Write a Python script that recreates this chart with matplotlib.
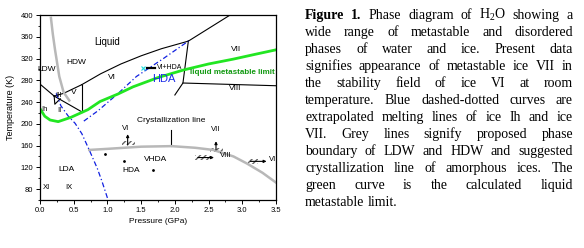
import matplotlib
matplotlib.use("Agg")
import matplotlib.pyplot as plt
from matplotlib.patches import Rectangle
from matplotlib.ticker import MultipleLocator

plt.rcParams['font.family'] = ['Liberation Sans', 'DejaVu Sans']
plt.rcParams['mathtext.fontset'] = 'custom'
plt.rcParams['mathtext.rm'] = 'Liberation Serif'

# ---------------- data (GPa, K) ----------------
# stable phase boundaries (black)
melt_Ih_P = [0.0, 0.21]
melt_Ih_T = [273, 251]
melt_low_P = [0.21, 0.35, 0.62]
melt_low_T = [251, 256, 272]
melt_VI_P = [0.62, 0.9, 1.2, 1.5, 1.8, 2.2]
melt_VI_T = [272, 292, 310, 325, 338, 352]
melt_VII_P = [2.2, 2.82]
melt_VII_T = [352, 400]
b_V_VI_P = [0.62, 0.62]
b_V_VI_T = [272, 222]
b_diag_P = [0.21, 0.62]
b_diag_T = [251, 222]
b_tri_P = [0.21, 0.22, 0.30]
b_tri_T = [251, 236, 246]
b_VI_VII_P = [2.2, 2.12, 2.0]
b_VI_VII_T = [352, 275, 253]
b_VII_VIII_P = [2.12, 3.5]
b_VII_VIII_T = [275, 270]

# grey lines
ldw_hdw_P = [0.16, 0.19, 0.223, 0.286, 0.35, 0.445]
ldw_hdw_T = [397, 365, 336, 287, 258, 241]
cryst_P = [0.73, 1.0, 1.5, 1.95, 2.3, 2.57, 2.87, 3.07, 3.3, 3.5]
cryst_T = [152, 154, 158, 159, 156, 152, 140, 127, 110, 92]
cryst_tick_P = [1.95, 1.95]
cryst_tick_T = [159, 188]

# blue dash-dotted extrapolated melting lines
ext_Ih_P = [0.24, 0.31, 0.42, 0.52, 0.62, 0.73, 0.85, 0.92, 1.01]
ext_Ih_T = [256, 233, 214, 201, 182, 152, 118, 94, 60]
ext_VII_P = [0.65, 0.86, 1.16, 1.43, 1.83, 2.2]
ext_VII_T = [205, 224, 256, 287, 320, 352]

# green liquid metastable limit
lml_P = [0.0, 0.07, 0.15, 0.27, 0.46, 0.71, 0.89, 1.16, 1.38, 1.75, 2.13, 2.5, 2.87, 3.2, 3.5]
lml_T = [228, 214, 207, 204, 212, 226, 241, 255, 268, 285, 299, 310, 319, 328, 336]

# experimental points
dots_P = [0.96, 1.25, 1.67]
dots_T = [145, 132, 116]
vi_hda_P = [1.53]
vi_hda_T = [302]
vi_hda_bar_P = [1.58, 1.70]
vi_hda_bar_T = [302, 302]

# hatched transitions with arrows: (P0, P1, T0, T1) hatch box ; arrow from -> to
hatch_boxes = [(1.21, 1.41, 161, 168), (2.52, 2.72, 149, 155),
               (2.30, 2.52, 133, 142), (3.09, 3.24, 127, 136)]
arrows_from = [(1.30, 161), (2.61, 152), (2.34, 138), (3.12, 131)]
arrows_to = [(1.30, 181), (2.61, 168), (2.58, 138), (3.36, 131)]

# phase labels
labels = ["Liquid", "HDW", "LDW", "VI", "V", "III", "II", "Ih", "VII", "VIII",
          "LDA", "HDA", "VHDA", "XI", "IX", "VI", "VII", "VIII", "VII",
          "VI+HDA", "Crystallization line"]
labels_P = [0.99, 0.54, 0.10, 1.06, 0.50, 0.28, 0.29, 0.07, 2.90, 2.90,
            0.40, 1.35, 1.72, 0.09, 0.43, 1.27, 2.60, 2.75, 3.47,
            1.92, 1.95]
labels_T = [351, 312, 299, 285, 257, 252, 225, 226, 336, 265,
            116, 115, 134, 83, 83, 192, 189, 141, 134,
            303, 206]
labels_size = [7, 6, 6, 6, 6, 5.5, 5.5, 5.5, 6, 6,
               6, 6, 6, 5.5, 5.5, 5.5, 5.5, 5.5, 5.5,
               5, 6]

x_ticks = [0.0, 0.5, 1.0, 1.5, 2.0, 2.5, 3.0, 3.5]
y_ticks = [80, 120, 160, 200, 240, 280, 320, 360, 400]

caption_lines = [
    [("Figure", "bold"), ("1.", "bold"), ("Phase", None), ("diagram", None), ("of", None),
     ("H$_2$O", None), ("showing", None), ("a", None)],
    "wide range of metastable and disordered",
    "phases of water and ice. Present data",
    "signifies appearance of metastable ice VII in",
    "the stability field of ice VI at room",
    "temperature. Blue dashed-dotted curves are",
    "extrapolated melting lines of ice Ih and ice",
    "VII. Grey lines signify proposed phase",
    "boundary of LDW and HDW and suggested",
    "crystallization line of amorphous ices. The",
    "green curve is the calculated liquid",
    "metastable limit.",
]

# ---------------- figure ----------------
W, H = 584, 248
fig = plt.figure(figsize=(W / 100, H / 100), dpi=100)
ax = fig.add_axes([40 / W, 1 - 200 / H, 236 / W, 185 / H])
ax.set_xlim(0, 3.5)
ax.set_ylim(60, 400)

k = dict(color='black', lw=0.8)
for px, ty in [(melt_Ih_P, melt_Ih_T), (melt_low_P, melt_low_T), (melt_VI_P, melt_VI_T),
               (melt_VII_P, melt_VII_T), (b_V_VI_P, b_V_VI_T), (b_diag_P, b_diag_T),
               (b_tri_P, b_tri_T), (b_VI_VII_P, b_VI_VII_T), (b_VII_VIII_P, b_VII_VIII_T),
               (cryst_tick_P, cryst_tick_T)]:
    ax.plot(px, ty, **k)

ax.plot(ldw_hdw_P, ldw_hdw_T, color='#b8b8b8', lw=1.8, solid_capstyle='butt')
ax.plot(cryst_P, cryst_T, color='#b8b8b8', lw=1.8)
ax.plot(ext_Ih_P, ext_Ih_T, color='#1020e0', lw=0.9, ls=(0, (4, 2, 1, 2)))
ax.plot(ext_VII_P, ext_VII_T, color='#1020e0', lw=0.9, ls=(0, (4, 2, 1, 2)))
ax.plot(lml_P, lml_T, color='#22e622', lw=2.0)

ax.plot(dots_P, dots_T, ls='none', marker='o', ms=1.0, color='black')
ax.plot(vi_hda_bar_P, vi_hda_bar_T, color='black', lw=1.6)
ax.plot(vi_hda_P, vi_hda_T, ls='none', marker='x', ms=3, mew=0.8, color='#22dddd')

for (p0, p1, t0, t1), a0, a1 in zip(hatch_boxes, arrows_from, arrows_to):
    ax.add_patch(Rectangle((p0, t0), p1 - p0, t1 - t0, fill=False, hatch='//////',
                           edgecolor='#666666', lw=0))
    ax.annotate('', xy=a1, xytext=a0,
                arrowprops=dict(arrowstyle='-|>', lw=0.8, color='black',
                                mutation_scale=4, shrinkA=0, shrinkB=0))

for s, p, t, fs in zip(labels, labels_P, labels_T, labels_size):
    ax.text(p, t, s, fontsize=fs, ha='center', va='center', color='black')
ax.text(2.86, 295, "liquid metastable limit", fontsize=5.8, ha='center', va='center',
        color='#119911', fontweight='bold')
ax.text(1.83, 282, "HDA", fontsize=8, ha='center', va='center', color='#1a2ae8')

ax.set_xticks(x_ticks)
ax.set_xticklabels([f"{v:.1f}" for v in x_ticks])
ax.set_yticks(y_ticks)
ax.xaxis.set_minor_locator(MultipleLocator(0.25))
ax.yaxis.set_minor_locator(MultipleLocator(20))
ax.tick_params(which='major', direction='out', length=3, width=0.7, labelsize=5.5, pad=2)
ax.tick_params(which='minor', direction='out', length=1.5, width=0.6)
for sp in ax.spines.values():
    sp.set_linewidth(0.9)
ax.set_xlabel("Pressure (GPa)", fontsize=6, labelpad=3)
ax.set_ylabel("Temperature (K)", fontsize=6.5, labelpad=4)

# ---------------- justified caption ----------------
fig.canvas.draw()
r = fig.canvas.get_renderer()
cap_kw = dict(family='Liberation Serif', fontsize=10)
left_px, right_px = 305, 573
base0, step = 19, 16.97

def make(word, weight, x, y):
    return fig.text(x / W, 1 - y / H, word, fontweight=weight or 'normal',
                    va='baseline', ha='left', **cap_kw)

for i, line in enumerate(caption_lines):
    if isinstance(line, str):
        words = [(w, None) for w in line.split()]
    else:
        words = line
    y = base0 + i * step
    texts = [make(w, wt, left_px, y) for w, wt in words]
    widths = [t.get_window_extent(r).width for t in texts]
    last = i == len(caption_lines) - 1
    if last or len(words) == 1:
        sp = fig.text(0, 0, "a b", **cap_kw)
        gap = sp.get_window_extent(r).width - fig.text(0, 0, "ab", **cap_kw).get_window_extent(r).width
        gap = max(gap, 3)
    else:
        gap = (right_px - left_px - sum(widths)) / (len(words) - 1)
    x = left_px
    for t, w in zip(texts, widths):
        t.set_x(x / W)
        x += w + gap
for t in list(fig.texts):
    if t.get_text() in ("a b", "ab"):
        t.remove()

fig.savefig("out.png", dpi=100)
